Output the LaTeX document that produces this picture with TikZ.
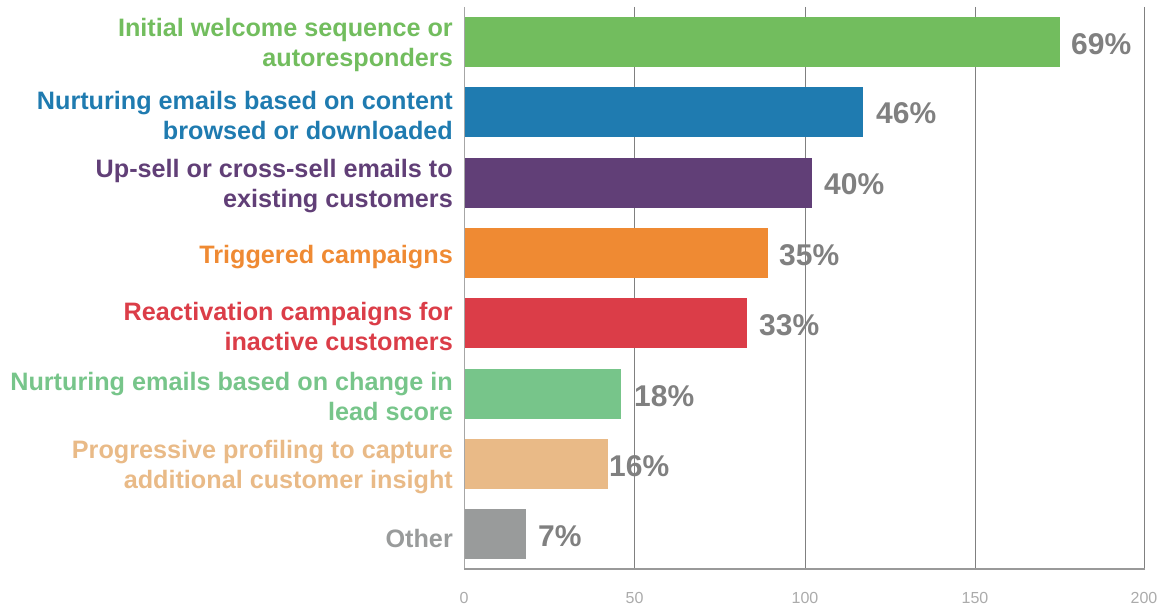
\documentclass[tikz,border=0pt]{standalone}
\usepackage{fontspec}
\setmainfont{Liberation Sans}
\begin{document}
\begin{tikzpicture}[x=1pt,y=-1pt,
  grid/.style={draw=black!50,line width=1pt},
  bar/.style={draw=none,inner sep=0pt,outer sep=0pt},
  cat/.style={anchor=east,align=right,inner sep=0pt,font=\fontsize{25.2}{30}\selectfont\bfseries},
  pct/.style={anchor=west,inner sep=0pt,text=black!50,font=\fontsize{30}{30}\selectfont\bfseries},
  tick/.style={anchor=center,inner sep=0pt,text=black!33,font=\fontsize{16}{16}\selectfont}]
\definecolor{cA}{HTML}{72BD5E}
\definecolor{cB}{HTML}{1F7BB0}
\definecolor{cC}{HTML}{613F77}
\definecolor{cD}{HTML}{EF8A33}
\definecolor{cE}{HTML}{DB3D48}
\definecolor{cF}{HTML}{77C58A}
\definecolor{cG}{HTML}{E9BA87}
\definecolor{cH}{HTML}{999B9B}
\useasboundingbox (0,0) rectangle (1162,607);
% grid
\foreach \gx in {634.5,805,975,1144.5}{\draw[grid] (\gx,7) -- (\gx,569);}
% bars
\foreach \i/\xe/\col in {0/1060/cA,1/863/cB,2/812/cC,3/768/cD,4/747/cE,5/621/cF,6/608/cG,7/526/cH}{
  \fill[\col] (464,17+70.3*\i) rectangle (\xe,67+70.3*\i);
}
% axes
\draw[draw=black!35,line width=1pt] (464,7) -- (464,569);
\draw[draw=black!40,line width=1.8pt] (464,569) -- (1144.5,569);
% category labels
\node[cat,text=cA] (l1) at (453,45) {Initial welcome sequence or\\autoresponders};
\node[cat,text=cB] (l2) at (453,115.3) {Nurturing emails based on content\\browsed or downloaded};
\node[cat,text=cC] (l3) at (453,185.6) {Up-sell or cross-sell emails to\\existing customers};
\node[cat,text=cD] (l4) at (453,257) {Triggered campaigns};
\node[cat,text=cE] (l5) at (453,326.2) {Reactivation campaigns for\\inactive customers};
\node[cat,text=cF] (l6) at (453,396.5) {Nurturing emails based on change in\\lead score};
\node[cat,text=cG] (l7) at (453,466.8) {Progressive profiling to capture\\additional customer insight};
\node[cat,text=cH] (l8) at (453,538) {Other};
% percentages
\node[pct] (p1) at (1071,44) {69\%};
\node[pct] (p2) at (876,113) {46\%};
\node[pct] (p3) at (824,184) {40\%};
\node[pct] (p4) at (779,255) {35\%};
\node[pct] (p5) at (759,325) {33\%};
\node[pct] (p6) at (634,396) {18\%};
\node[pct] (p7) at (609,466) {16\%};
\node[pct] (p8) at (538,536) {7\%};
% ticks
\node[tick] (t0) at (464,598) {0};
\node[tick] (t1) at (634.5,598) {50};
\node[tick] (t2) at (805,598) {100};
\node[tick] (t3) at (975,598) {150};
\node[tick] (t4) at (1144,598) {200};
\end{tikzpicture}
\end{document}
